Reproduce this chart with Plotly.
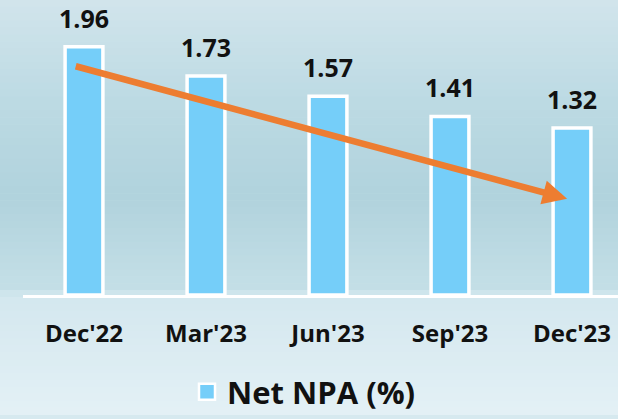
import plotly.graph_objects as go
import numpy as np

categories = ["Dec'22", "Mar'23", "Jun'23", "Sep'23", "Dec'23"]
net_npa = [1.96, 1.73, 1.57, 1.41, 1.32]
series_name = "Net NPA (%)"

W, H = 618, 419
ML, MB = 23, 121
FONT = "Open Sans"
BAR_COLOR = "#75CEF9"

fig = go.Figure()
fig.add_trace(go.Bar(
    x=categories, y=net_npa, name=series_name,
    marker=dict(color=BAR_COLOR, line=dict(color="white", width=3.5)),
    width=0.31, showlegend=False,
))
# legend entry (square swatch)
fig.add_trace(go.Scatter(
    x=[None], y=[None], mode="markers", name=series_name,
    marker=dict(symbol="square", size=16, color=BAR_COLOR,
                line=dict(color="white", width=2.5)),
    showlegend=True,
))

# value labels
for c, v in zip(categories, net_npa):
    fig.add_annotation(x=c, y=v, text=f"{v:.2f}", showarrow=False,
                       yanchor="bottom", yshift=10,
                       font=dict(family=FONT, size=25, color="#111111", weight="bold"))

# trend arrow
fig.add_annotation(x=3.96, y=0.76, ax=-0.08, ay=1.81,
                   xref="x", yref="y", axref="x", ayref="y",
                   showarrow=True, arrowhead=2, arrowsize=0.75, arrowwidth=6.5,
                   arrowcolor="#ED7D31", standoff=0, text="")

# background gradient
stops_y = [0, 100, 200, 290, 300, 419]
stops_c = [(0xd2, 0xe5, 0xec), (0xbd, 0xdb, 0xe4), (0xb1, 0xd3, 0xdd),
           (0xc4, 0xdf, 0xe7), (0xd4, 0xe8, 0xef), (0xe4, 0xf1, 0xf6)]
shapes = []
pw = W - ML
ph = H - MB
n = 60
for i in range(n):
    y0p = H * i / n
    y1p = H * (i + 1) / n
    ym = (y0p + y1p) / 2
    col = [int(np.interp(ym, stops_y, [s[k] for s in stops_c])) for k in range(3)]
    shapes.append(dict(type="rect", xref="paper", yref="paper", layer="below",
                       x0=-ML / pw - 0.01, x1=1.01,
                       y0=(ph - y1p) / ph - 0.001, y1=(ph - y0p) / ph + 0.001,
                       line=dict(width=0), fillcolor=f"rgb({col[0]},{col[1]},{col[2]})"))
fig.update_layout(shapes=shapes)

fig.update_layout(
    width=W, height=H,
    margin=dict(l=ML, r=0, t=0, b=MB),
    paper_bgcolor="#d6e9ef", plot_bgcolor="rgba(0,0,0,0)",
    xaxis=dict(range=[-0.5, -0.5 + pw / 122], showgrid=False, zeroline=False,
               showline=True, linecolor="white", linewidth=3, ticks="",
               ticklabelstandoff=15,
               tickfont=dict(family=FONT, size=24, color="#111111", weight="bold")),
    yaxis=dict(range=[0, 2.33], visible=False, showgrid=False, zeroline=False),
    legend=dict(orientation="h", x=(304 - ML) / pw, xanchor="center",
                y=(ph - 396) / ph, yanchor="middle", itemwidth=30,
                font=dict(family=FONT, size=31, color="#111111", weight="bold"),
                bgcolor="rgba(0,0,0,0)"),
    showlegend=True,
)

fig.write_html("out.html", config={"displayModeBar": False},
               post_script="document.body.style.margin='0';")
